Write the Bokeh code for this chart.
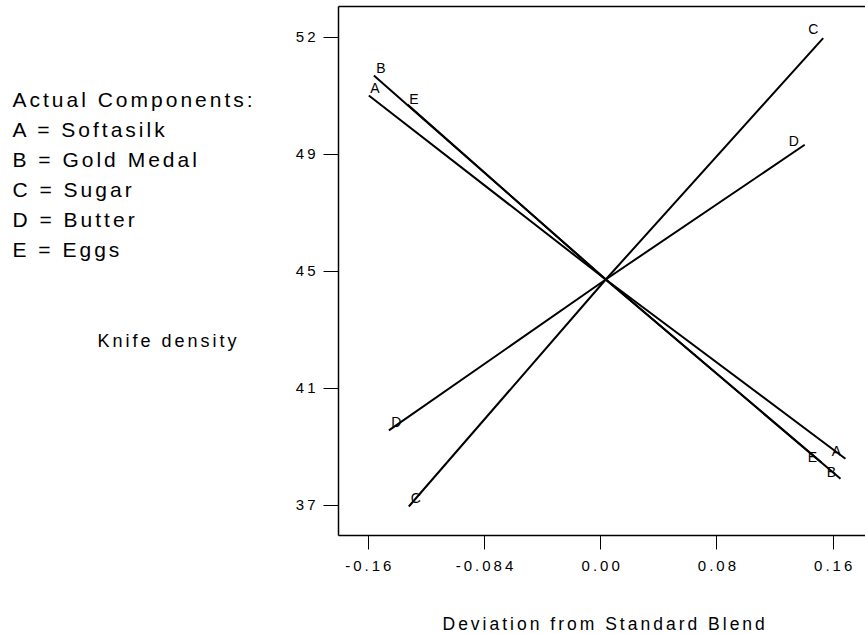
from bokeh.plotting import figure
from bokeh.models import FixedTicker, Range1d, Label, LinearAxis, ColumnDataSource
from bokeh.embed import file_html
from bokeh.resources import INLINE
from bokeh.core.properties import value

# ---- data -------------------------------------------------------------
components = ["A", "B", "C", "D", "E"]
component_names = ["Softasilk", "Gold Medal", "Sugar", "Butter", "Eggs"]

# trace: deviation from standard blend (start, reference blend, end)
dev_A = [-0.1641, 0.0, 0.1660]
knife_A = [50.44, 44.54, 38.79]
dev_B = [-0.1606, 0.0, 0.1626]
knife_B = [51.08, 44.54, 38.15]
dev_C = [-0.1364, 0.0, 0.1506]
knife_C = [37.26, 44.54, 52.28]
dev_D = [-0.1502, 0.0, 0.1378]
knife_D = [39.70, 44.54, 48.86]
dev_E = [-0.1373, 0.0, 0.1494]
knife_E = [50.15, 44.54, 38.67]

x_ticks = [-0.1645, -0.084, -0.0035, 0.077, 0.1575]
x_tick_labels = ["-0.16", "-0.084", "0.00", "0.08", "0.16"]
y_ticks = [37.3, 41.05, 44.8, 48.55, 52.3]
y_tick_labels = ["37", "41", "45", "49", "52"]

x_title = "Deviation from Standard Blend"
y_title = "Knife density"
legend_title = "Actual Components:"

# axis box limits (data)
x_lo, x_hi = -0.1851, 0.1799
y_lo, y_hi = 36.33, 53.294

FONT = "Liberation Sans"
TRACKING = 3  # px letter spacing of the original's lettering

traces = {
    "A": (dev_A, knife_A),
    "B": (dev_B, knife_B),
    "C": (dev_C, knife_C),
    "D": (dev_D, knife_D),
    "E": (dev_E, knife_E),
}

# ---- layout: the axis box sits inside a full-canvas frame ----------------
W, H = 865, 634
box_left, box_right, box_top, box_bottom = 338, 865, 6, 535
sx = (box_right - box_left) / (x_hi - x_lo)
sy = (box_bottom - box_top) / (y_hi - y_lo)

p = figure(
    width=W, height=H,
    x_range=Range1d(x_lo - box_left / sx, x_hi + (W - box_right) / sx),
    y_range=Range1d(y_lo - (H - box_bottom) / sy, y_hi + box_top / sy),
    output_backend="svg", toolbar_location=None,
    min_border=0,
    background_fill_color="white", border_fill_color="white",
)
p.stylesheets = [f":host {{ letter-spacing: {TRACKING}px; }}"]
p.outline_line_color = None
p.xgrid.visible = False
p.ygrid.visible = False

xax = p.xaxis[0]
yax = p.yaxis[0]
for ax in (xax, yax):
    ax.axis_line_color = "black"
    ax.axis_line_width = 1.5
    ax.major_tick_line_color = "black"
    ax.major_tick_line_width = 1
    ax.minor_tick_line_color = None
    ax.major_tick_in = 0
    ax.major_label_text_font = FONT
    ax.major_label_text_font_size = "15px"
    ax.major_label_text_color = "black"

# x axis: line + ticks
xax.fixed_location = y_lo
xax.bounds = (x_lo, x_hi)
xax.ticker = FixedTicker(ticks=x_ticks)
xax.major_tick_out = 14
xax.major_label_text_color = None

# x tick labels, re-centred to compensate for the letter spacing
label_pos = [t - (len(s) - 1) * TRACKING / 2 / sx for t, s in zip(x_ticks, x_tick_labels)]
x_label_axis = LinearAxis(fixed_location=y_lo, ticker=FixedTicker(ticks=label_pos),
                          major_label_overrides=dict(zip(label_pos, x_tick_labels)),
                          axis_line_color=None, major_tick_line_color=None,
                          minor_tick_line_color=None, major_tick_out=0, major_tick_in=0,
                          major_label_standoff=25, major_label_text_font=FONT,
                          major_label_text_font_size="15px", major_label_text_color="black")
p.add_layout(x_label_axis, "below")

yax.fixed_location = x_lo
yax.bounds = (y_lo, y_hi)
yax.ticker = FixedTicker(ticks=y_ticks)
yax.major_label_overrides = dict(zip(y_ticks, y_tick_labels))
yax.major_tick_out = 15
yax.major_label_standoff = 11
yax.major_label_orientation = "horizontal"

top_axis = LinearAxis(fixed_location=y_hi, bounds=(x_lo, x_hi),
                      ticker=FixedTicker(ticks=[]),
                      axis_line_color="black", axis_line_width=1.5,
                      major_tick_line_color=None, minor_tick_line_color=None,
                      major_label_text_color=None)
p.add_layout(top_axis, "above")

# trace lines
for comp in components:
    xs, ys = traces[comp]
    p.line(xs, ys, line_color="black", line_width=2)

# letter markers at both ends of each trace
start_off = {"A": (6, -7.5), "B": (7, -7.5), "C": (7, -8), "D": (7.5, -8), "E": (6.5, -5.5)}
end_off = {"A": (-9, -8), "B": (-9, -7), "C": (-10, -9), "D": (-11, -4), "E": (-9, -5.5)}
lx, ly, lt, ox, oy = [], [], [], [], []
for comp in components:
    xs, ys = traces[comp]
    for idx, offs in ((0, start_off), (-1, end_off)):
        lx.append(xs[idx]); ly.append(ys[idx]); lt.append(comp)
        ox.append(offs[comp][0]); oy.append(offs[comp][1])
src = ColumnDataSource(dict(x=lx, y=ly, text=lt, xo=ox, yo=oy))
p.text(x="x", y="y", text="text", x_offset="xo", y_offset="yo", source=src,
       text_align="center", text_baseline="middle",
       text_font=value(FONT), text_font_size="14px", text_color="black")

# text annotations (screen units: x from left edge, y from bottom edge)
def add_text(txt, px, py, size):
    p.add_layout(Label(x=px, y=H - py, x_units="screen", y_units="screen",
                       text=txt, text_font=FONT, text_font_size=size,
                       text_baseline="middle", text_align="left",
                       text_color="black"))

add_text(legend_title, 12, 99, "21px")
for comp, name, py in zip(components, component_names, [129, 158.5, 189, 219, 249]):
    add_text(f"{comp} = {name}", 12, py, "21px")
add_text(y_title, 97, 340, "18px")
add_text(x_title, 442, 623, "17.5px")

open("out.html", "w").write(file_html(p, INLINE))
